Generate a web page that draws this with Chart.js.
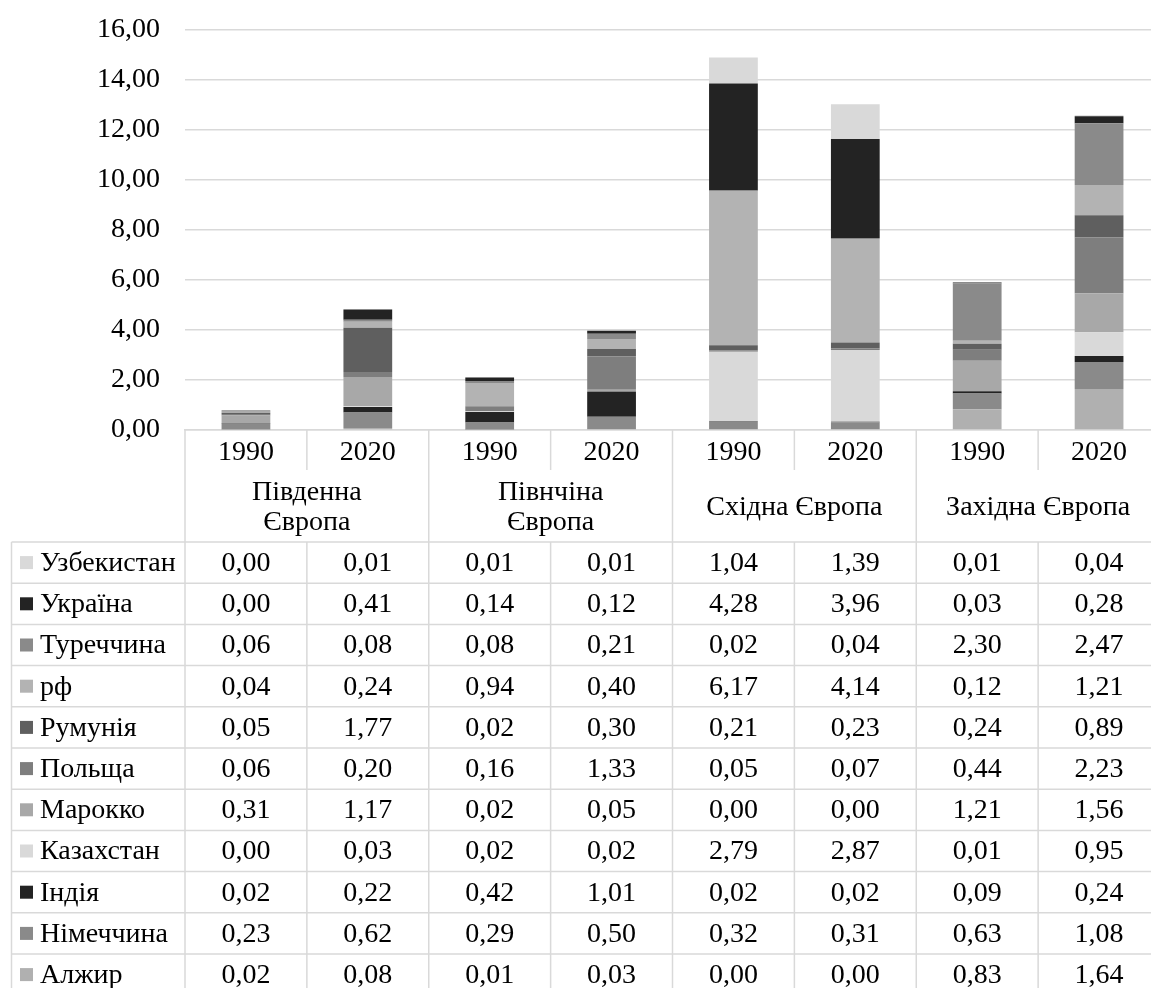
<!DOCTYPE html>
<html lang="uk">
<head>
<meta charset="utf-8">
<script src="https://cdn.jsdelivr.net/npm/chart.js@4/dist/chart.umd.min.js"></script>
<style>
  html, body { margin: 0; padding: 0; background: #fff; overflow: hidden; }
  #wrap { position: relative; width: 1160px; height: 1000px; }
</style>
</head>
<body>
<div id="wrap"><canvas id="chart"></canvas></div>
<script>
// Columns: region × year
const years = ['1990', '2020', '1990', '2020', '1990', '2020', '1990', '2020'];
const regions = [['Південна', 'Європа'], ['Півнчіна', 'Європа'], ['Східна Європа'], ['Західна Європа']];

// Countries in table order (top row first)
const countries = ['Узбекистан', 'Україна', 'Туреччина', 'рф', 'Румунія', 'Польща',
                   'Марокко', 'Казахстан', 'Індія', 'Німеччина', 'Алжир'];

const uzbekistan = [0.00, 0.01, 0.01, 0.01, 1.04, 1.39, 0.01, 0.04];
const ukraine    = [0.00, 0.41, 0.14, 0.12, 4.28, 3.96, 0.03, 0.28];
const turkey     = [0.06, 0.08, 0.08, 0.21, 0.02, 0.04, 2.30, 2.47];
const rf         = [0.04, 0.24, 0.94, 0.40, 6.17, 4.14, 0.12, 1.21];
const romania    = [0.05, 1.77, 0.02, 0.30, 0.21, 0.23, 0.24, 0.89];
const poland     = [0.06, 0.20, 0.16, 1.33, 0.05, 0.07, 0.44, 2.23];
const morocco    = [0.31, 1.17, 0.02, 0.05, 0.00, 0.00, 1.21, 1.56];
const kazakhstan = [0.00, 0.03, 0.02, 0.02, 2.79, 2.87, 0.01, 0.95];
const india      = [0.02, 0.22, 0.42, 1.01, 0.02, 0.02, 0.09, 0.24];
const germany    = [0.23, 0.62, 0.29, 0.50, 0.32, 0.31, 0.63, 1.08];
const algeria    = [0.02, 0.08, 0.01, 0.03, 0.00, 0.00, 0.83, 1.64];

const series = [uzbekistan, ukraine, turkey, rf, romania, poland, morocco, kazakhstan, india, germany, algeria];

// Grey palette, same order as countries
const colors = ['#d9d9d9', '#232323', '#8a8a8a', '#b3b3b3', '#5f5f5f', '#7e7e7e',
                '#a8a8a8', '#d9d9d9', '#232323', '#8a8a8a', '#b0b0b0'];

const FONT = '"Liberation Serif", "Times New Roman", serif';
const FONT_SIZE = 28;
const LINE = '#d9d9d9';
const fmt = v => v.toFixed(2).replace('.', ',');

// Stacked bottom-up: last table row sits at the bottom of each bar
const datasets = countries.map((name, i) => ({
  label: name,
  data: series[i],
  backgroundColor: colors[i],
  borderWidth: 0
})).reverse();

// Data table under the axis: region headers, legend keys and values
const dataTable = {
  id: 'dataTable',
  afterDraw(chart) {
    const { ctx, chartArea, scales: { x } } = chart;
    const n = years.length;
    const centers = years.map((_, i) => x.getPixelForValue(i));
    const half = (centers[1] - centers[0]) / 2;
    const edges = [centers[0] - half, ...centers.map(c => c + half)];
    const axisY = chartArea.bottom;
    const yearBottom = axisY + 40;
    const tableTop = axisY + 112;
    const rowH = 41.2;
    const legendLeft = 11.5;
    const bottom = tableTop + countries.length * rowH;

    ctx.save();
    ctx.strokeStyle = LINE;
    ctx.lineWidth = 1.5;
    const line = (x1, y1, x2, y2) => { ctx.beginPath(); ctx.moveTo(x1, y1); ctx.lineTo(x2, y2); ctx.stroke(); };

    for (let r = 0; r <= countries.length; r++) {
      const y = tableTop + r * rowH;
      line(legendLeft, y, edges[n], y);
    }
    line(legendLeft, tableTop, legendLeft, bottom);
    line(edges[0], axisY, edges[0], bottom);
    line(edges[n], axisY, edges[n], bottom);
    for (let k = 1; k < n; k++) {
      if (k % 2 === 0) {
        line(edges[k], axisY, edges[k], bottom);
      } else {
        line(edges[k], axisY, edges[k], yearBottom);
        line(edges[k], tableTop, edges[k], bottom);
      }
    }

    ctx.fillStyle = '#000';
    ctx.font = FONT_SIZE + 'px ' + FONT;
    ctx.textBaseline = 'middle';
    ctx.textAlign = 'center';

    const headerMid = (yearBottom + tableTop) / 2 + 2;
    regions.forEach((lines, g) => {
      const cx = (edges[2 * g] + edges[2 * g + 2]) / 2;
      const lh = 30;
      lines.forEach((t, j) => {
        ctx.fillText(t, cx, headerMid + (j - (lines.length - 1) / 2) * lh);
      });
    });

    countries.forEach((name, r) => {
      const cy = tableTop + r * rowH + rowH / 2 + 1;
      ctx.fillStyle = colors[r];
      ctx.fillRect(20, cy - 7.5, 13, 13);
      ctx.fillStyle = '#000';
      ctx.textAlign = 'left';
      ctx.fillText(name, 40, cy);
      ctx.textAlign = 'center';
      series[r].forEach((v, i) => ctx.fillText(fmt(v), centers[i], cy));
    });
    ctx.restore();
  }
};

new Chart(document.getElementById('chart'), {
  type: 'bar',
  data: { labels: years, datasets },
  plugins: [dataTable],
  options: {
    responsive: true,
    maintainAspectRatio: false,
    animation: false,
    layout: { padding: { top: 30, left: 0, right: 0, bottom: 0 } },
    plugins: { legend: { display: false }, tooltip: { enabled: false } },
    datasets: { bar: { categoryPercentage: 1, barPercentage: 0.4 } },
    scales: {
      x: {
        stacked: true,
        grid: { display: false, drawTicks: false },
        border: { display: true, color: LINE, width: 1.5 },
        ticks: { color: '#000', font: { family: FONT, size: FONT_SIZE }, padding: 6, maxRotation: 0, autoSkip: false },
        afterFit: s => { s.height = 570; s.paddingLeft = 0; s.paddingRight = 0; }
      },
      y: {
        stacked: true,
        min: 0,
        max: 16,
        ticks: { stepSize: 2, color: '#000', font: { family: FONT, size: FONT_SIZE }, padding: 25, callback: v => fmt(v) },
        grid: { color: LINE, lineWidth: 1.5, drawTicks: false },
        border: { display: false },
        afterFit: s => { s.width = 185; s.paddingTop = 0; s.paddingBottom = 0; }
      }
    }
  }
});
</script>
</body>
</html>
